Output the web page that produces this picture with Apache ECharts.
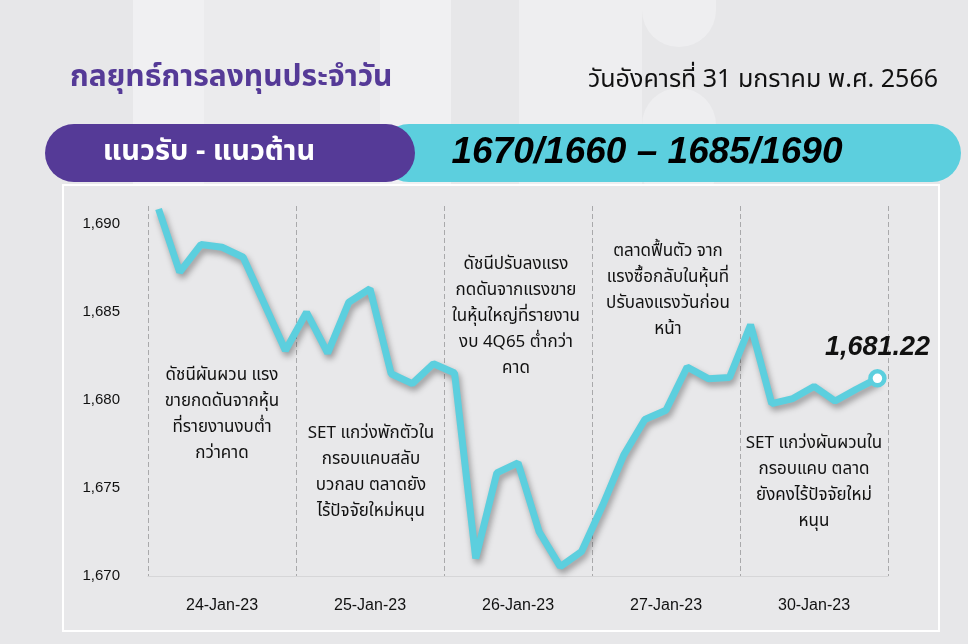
<!DOCTYPE html>
<html>
<head>
<meta charset="utf-8">
<script src="https://cdn.jsdelivr.net/npm/echarts@6/dist/echarts.min.js"></script>
<style>html,body{margin:0;padding:0;background:#e7e7e9;}#c{width:968px;height:644px;}</style>
</head>
<body>
<div id="c"></div>
<script>
// ---- data ----
const days = ['24-Jan-23', '25-Jan-23', '26-Jan-23', '27-Jan-23', '30-Jan-23'];
const day1Values = [1690.83, 1687.24, 1688.81, 1688.66, 1688.09, 1685.45, 1682.80];
const day2Values = [1684.97, 1682.65, 1685.54, 1686.30, 1681.48, 1680.92, 1682.05];
const day3Values = [1681.52, 1671.00, 1675.85, 1676.42, 1672.51, 1670.53, 1671.38];
const day4Values = [1674.00, 1676.86, 1678.88, 1679.41, 1681.86, 1681.20, 1681.26];
const day5Values = [1684.26, 1679.78, 1680.07, 1680.76, 1679.93, 1680.60, 1681.22];
const yTicks = [1670, 1675, 1680, 1685, 1690];
const lastLabel = '1,681.22';
const notes = [
  'ดัชนีผันผวน แรง\nขายกดดันจากหุ้น\nที่รายงานงบต่ำ\nกว่าคาด',
  'SET แกว่งพักตัวใน\nกรอบแคบสลับ\nบวกลบ ตลาดยัง\nไร้ปัจจัยใหม่หนุน',
  'ดัชนีปรับลงแรง\nกดดันจากแรงขาย\nในหุ้นใหญ่ที่รายงาน\nงบ 4Q65 ต่ำกว่า\nคาด',
  'ตลาดฟื้นตัว จาก\nแรงซื้อกลับในหุ้นที่\nปรับลงแรงวันก่อน\nหน้า',
  'SET แกว่งผันผวนใน\nกรอบแคบ ตลาด\nยังคงไร้ปัจจัยใหม่\nหนุน'
];
const titleText = 'กลยุทธ์การลงทุนประจำวัน';
const dateText = 'วันอังคารที่ 31 มกราคม พ.ศ. 2566';
const bandLabel = 'แนวรับ - แนวต้าน';
const bandValue = '1670/1660 – 1685/1690';

// ---- build ----
const dayValues = [day1Values, day2Values, day3Values, day4Values, day5Values];
const cats = [];
const vals = [];
dayValues.forEach((arr, d) => arr.forEach((v, k) => { cats.push(days[d] + ' ' + (k + 1)); vals.push(v); }));

const CYAN = '#5ccfde';
const PURPLE = '#553a97';
const FONT = "'Noto Sans Thai', 'Noto Sans', 'Liberation Sans', sans-serif";

const seriesData = vals.map((v, i) => i === vals.length - 1 ? {
  value: v,
  symbol: 'circle',
  symbolSize: 14,
  itemStyle: { color: '#ffffff', borderColor: CYAN, borderWidth: 4.5 },
  label: {
    show: true, position: 'top', distance: 8,
    formatter: lastLabel,
    fontSize: 27, fontWeight: 'bold', fontStyle: 'italic',
    fontFamily: "'Liberation Sans', sans-serif", color: '#111'
  }
} : v);

function fmt(v) { return String(v).replace(/\B(?=(\d{3})+(?!\d))/g, ','); }

const noteX = [222, 371, 516, 668, 814];
const noteY = [364, 422, 253, 240, 432];

const graphics = [
  // background bands
  { type: 'rect', z: -20, shape: { x: 133, y: 0, width: 71, height: 185 }, style: { fill: '#f0f0f2' } },
  { type: 'rect', z: -20, shape: { x: 204, y: 0, width: 176, height: 185 }, style: { fill: '#ebebed' } },
  { type: 'rect', z: -20, shape: { x: 380, y: 0, width: 71, height: 185 }, style: { fill: '#f0f0f2' } },
  { type: 'rect', z: -20, shape: { x: 519, y: 0, width: 123, height: 185 }, style: { fill: '#eeeef0' } },
  { type: 'rect', z: -19, shape: { x: 642, y: -40, width: 74, height: 87, r: 37 }, style: { fill: '#eeeef0' } },
  { type: 'rect', z: -19, shape: { x: 642, y: 88, width: 74, height: 120, r: 37 }, style: { fill: '#eeeef0' } },
  // panel
  { type: 'rect', z: -10, shape: { x: 63, y: 185, width: 876, height: 446 }, style: { fill: '#e8e8ea', stroke: '#ffffff', lineWidth: 2 } },
  // banner
  { type: 'rect', z: -5, shape: { x: 380, y: 124, width: 581, height: 58, r: 29 }, style: { fill: CYAN } },
  { type: 'rect', z: -4, shape: { x: 45, y: 124, width: 370, height: 58, r: 29 }, style: { fill: PURPLE } },
  { type: 'text', z: 50, style: { x: 209, y: 154, text: bandLabel, fill: '#ffffff', font: "bold 29px " + FONT, textAlign: 'center', textVerticalAlign: 'middle' } },
  { type: 'text', z: 50, style: { x: 647, y: 153, text: bandValue, fill: '#000000', font: "italic bold 37px 'Liberation Sans', sans-serif", textAlign: 'center', textVerticalAlign: 'middle' } },
  // header
  { type: 'text', z: 50, style: { x: 70, y: 80, text: titleText, fill: PURPLE, font: "bold 30px " + FONT, textAlign: 'left', textVerticalAlign: 'middle' } },
  { type: 'text', z: 50, style: { x: 938, y: 82, text: dateText, fill: '#111111', font: "25px " + FONT, textAlign: 'right', textVerticalAlign: 'middle' } }
];
notes.forEach((t, i) => {
  graphics.push({ type: 'text', z: 50, style: { x: noteX[i], y: noteY[i], text: t, fill: '#111111', font: "17px " + FONT, lineHeight: 26, textAlign: 'center', textVerticalAlign: 'top' } });
});

const chart = echarts.init(document.getElementById('c'));
chart.setOption({
  backgroundColor: 'transparent',
  animation: false,
  graphic: { elements: graphics },
  grid: { left: 148, right: 80, top: 206, bottom: 68 },
  xAxis: [
    { type: 'category', data: cats, show: false, boundaryGap: true },
    {
      type: 'category', data: days, position: 'bottom', boundaryGap: true,
      axisLine: { show: true, lineStyle: { color: '#d6d6d8', width: 1 } },
      axisTick: { show: false },
      axisLabel: { color: '#111', fontSize: 16, margin: 22, fontFamily: "'Liberation Sans', sans-serif" },
      splitLine: { show: true, lineStyle: { color: '#a9a9ab', type: [5, 3], width: 1 } }
    }
  ],
  yAxis: {
    type: 'value', min: yTicks[0], max: 1691, interval: 5,
    axisLine: { show: false }, axisTick: { show: false }, splitLine: { show: false },
    axisLabel: {
      color: '#111', fontSize: 15, margin: 28, showMaxLabel: false,
      fontFamily: "'Liberation Sans', sans-serif",
      formatter: v => yTicks.indexOf(v) >= 0 ? fmt(v) : ''
    }
  },
  series: [{
    type: 'line', xAxisIndex: 0, data: seriesData,
    symbol: 'none', showSymbol: true, showAllSymbol: true,
    lineStyle: { color: CYAN, width: 7, shadowColor: 'rgba(0,0,0,0.35)', shadowBlur: 6, shadowOffsetX: 2, shadowOffsetY: 4 },
    itemStyle: { color: CYAN },
    z: 5
  }]
});
</script>
</body>
</html>
